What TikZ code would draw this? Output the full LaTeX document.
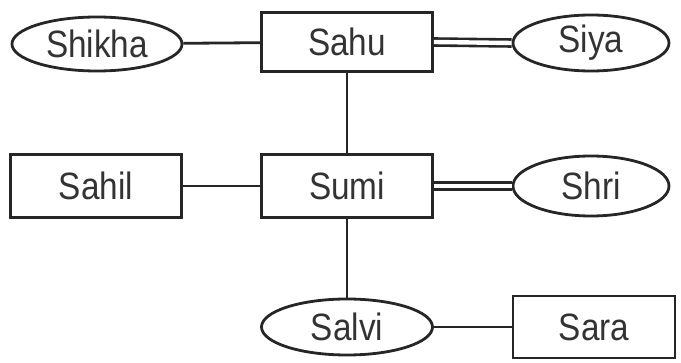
\documentclass[tikz,border=0pt]{standalone}
\usepackage{fontspec}
\usepackage{graphicx}
\setmainfont{Liberation Sans}
\usetikzlibrary{shapes.geometric}
\newcommand{\lbl}[1]{\scalebox{0.98}[1.12]{#1}}
\begin{document}
\begin{tikzpicture}[x=1pt,y=-1pt,
  every node/.style={font=\fontsize{34}{40}\selectfont, text=black!80, inner sep=0pt},
  ent/.style={draw=black!85, line width=2.8pt, rectangle, minimum width=171pt, minimum height=61pt},
  att/.style={draw=black!85, line width=2.8pt, ellipse, minimum width=170pt, minimum height=54pt},
  link/.style={draw=black!85, line width=2.8pt},
  dbl/.style={draw=black!85, line width=2.6pt, double=white, double distance=4.4pt}]
\useasboundingbox (0,0) rectangle (681,363);
% row 1
\node[att] (shikha) at (97,44) {\lbl{Shikha}};
\node[ent, minimum height=59pt] (sahu) at (347,42) {\lbl{Sahu}};
\node[att, minimum width=156pt, minimum height=56pt] (siya) at (591,43) {\lbl{Siya}};
% row 2
\node[ent, minimum height=63pt] (sahil) at (96,186) {\lbl{Sahil}};
\node[ent, minimum height=63pt] (sumi) at (347,186) {\lbl{Sumi}};
\node[att, minimum width=156pt, minimum height=60pt] (shri) at (591,186) {\lbl{Shri}};
% row 3
\node[att, minimum width=171pt, minimum height=56pt] (salvi) at (347,327) {\lbl{Salvi}};
\node[ent, minimum width=162pt, minimum height=62pt] (sara) at (594,327) {\lbl{Sara}};
% connectors
\draw[link] (shikha) -- (sahu);
\draw[dbl] (sahu.east) -- (siya.west);
\draw[link] (sahu) -- (sumi);
\draw[link] (sahil) -- (sumi);
\draw[dbl] (sumi.east) -- (shri.west);
\draw[link] (sumi) -- (salvi);
\draw[link] (salvi) -- (sara);
\end{tikzpicture}
\end{document}
